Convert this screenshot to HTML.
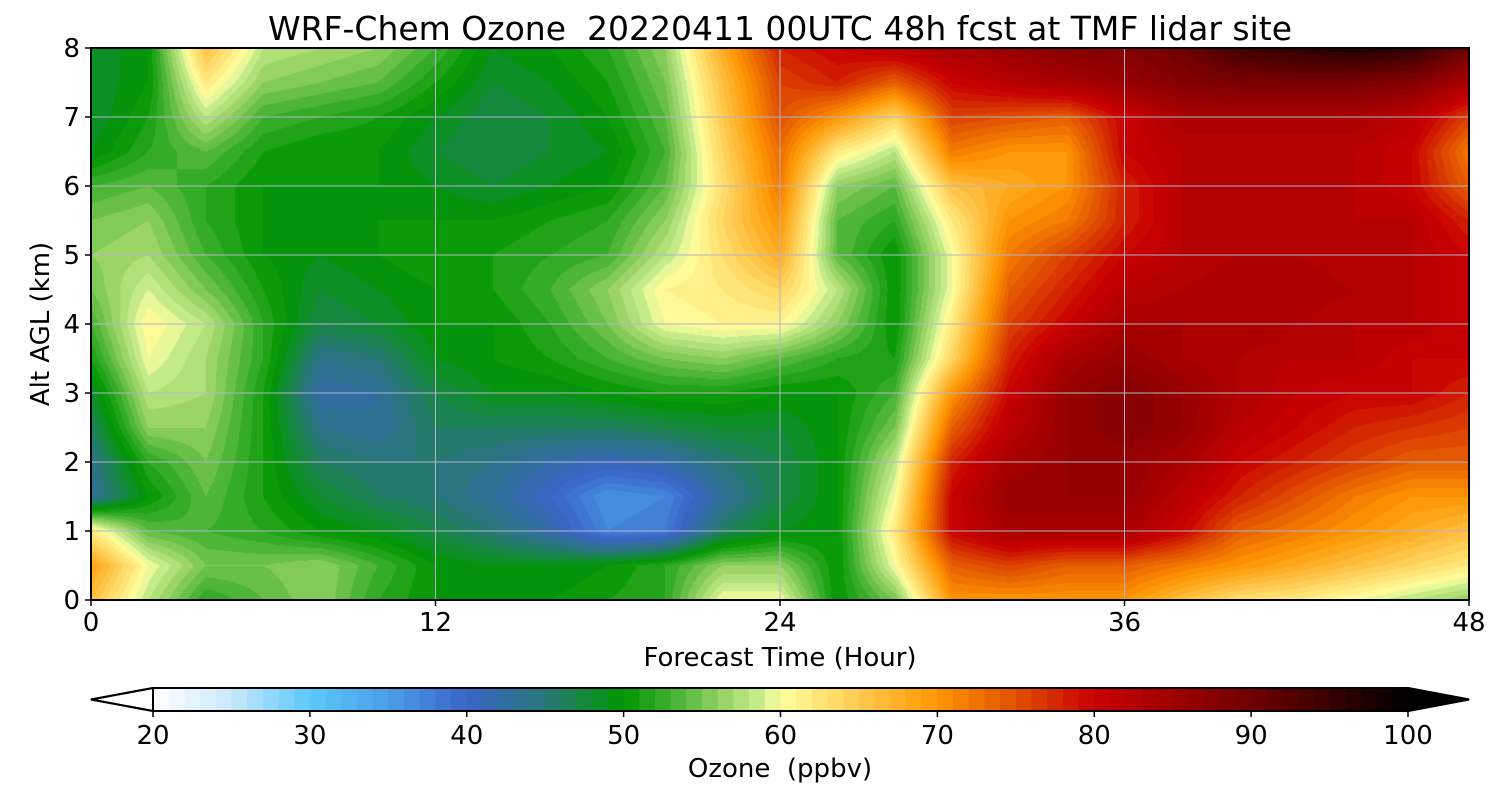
<!DOCTYPE html>
<html><head><meta charset="utf-8">
<style>
body{margin:0;background:#fff;width:1500px;height:800px;overflow:hidden;font-family:"DejaVu Sans","Liberation Sans",sans-serif;}
#wrap{position:relative;width:1500px;height:800px;}
canvas{position:absolute;left:91px;top:48px;}
svg{position:absolute;left:0;top:0;font-family:"DejaVu Sans","Liberation Sans",sans-serif;}
text{white-space:pre;}
</style></head><body>
<div id="wrap">
<canvas id="cv" width="1378" height="552"></canvas>
<svg id="sv" width="1500" height="800"></svg>
</div>
<script>
const hours=[0,2,4,6,8,10,12,14,16,18,20,22,24,26,28,30,32,34,36,38,40,42,44,46,48];
const alts=[0,0.5,1,1.5,2,2.5,3,3.5,4,4.5,5,5.5,6,6.5,7,7.5,8];
// ozone rows from alt 0 (first) to alt 8 (last)
const ozone=[
[66,58,52,54,56,52,50,50,50,51,52,60,60,50,55,70,70,70,70,66,63,62,60,58,56],
[69,60,55,55,56,53,50,49,49,50,52,56,56,50,60,74,76,74,74,72,70,68,66,64,62],
[62,54,53,52,50,49,47,45,42,37,38,46,49,50,62,80,84,84,84,80,74,72,70,68,66],
[43,50,54,51,48,46,45,43,40,36,37,43,47,50,60,80,86,86,86,82,78,75,72,70,70],
[44,52,55,51,46,45,45,44,42,41,42,45,47,50,58,78,84,86,86,84,80,78,76,74,74],
[46,56,56,51,44,43,46,46,46,46,47,48,48,50,55,74,82,86,88,86,82,80,78,77,76],
[48,58,57,51,42,43,47,49,49,50,51,51,50,50,53,70,80,86,88,86,83,81,80,80,78],
[51,60,57,52,44,45,49,50,51,53,55,56,54,52,51,64,78,84,86,84,83,82,82,80,80],
[53,61,58,52,47,48,50,50,52,55,60,61,61,56,50,62,76,80,84,84,84,83,82,82,80],
[55,59,55,51,48,49,50,51,53,56,61,62,64,58,50,60,74,78,82,83,84,84,83,82,80],
[56,57,53,50,49,50,51,51,52,53,58,63,68,54,50,60,72,76,80,82,83,83,82,82,80],
[55,56,52,50,49,50,50,50,51,52,56,64,70,54,52,62,70,72,78,82,82,82,82,82,78],
[53,54,52,50,50,50,49,48,49,50,54,63,72,56,54,66,68,70,78,82,82,82,82,80,74],
[49,52,54,51,50,50,48,47,48,49,53,64,73,62,58,72,70,70,80,82,82,82,82,80,72],
[48,51,58,53,52,51,49,47,48,50,54,65,75,70,64,76,75,74,80,84,84,84,84,82,76],
[48,50,62,56,55,54,51,48,49,51,55,66,76,78,74,80,82,84,86,88,89,89,89,88,84],
[48,50,66,58,57,56,53,49,50,52,56,68,78,80,82,84,86,88,88,90,94,96,97,96,90]];
const xTicks=[0,12,24,36,48];
const yTicks=[0,1,2,3,4,5,6,7,8];
const cbTicks=[20,30,40,50,60,70,80,90,100];
const stops=[[20,'#ffffff'],[25,'#c8e8fa'],[30,'#5ac8fa'],[35,'#4a9ee8'],[40,'#3a64c8'],[45,'#287878'],[48,'#108c30'],[50,'#009600'],[53,'#40b030'],[56,'#90d060'],[59,'#d0f090'],[60,'#ffffa0'],[63,'#ffe070'],[66,'#ffc040'],[70,'#ff9600'],[75,'#e05000'],[80,'#c80000'],[85,'#a00000'],[90,'#700000'],[95,'#380000'],[100,'#000000']];
function hex(h){return [1,3,5].map(i=>parseInt(h.substr(i,2),16));}
function cmap(v){
  if(v<=20)return hex('#ffffff'); if(v>=100)return [0,0,0];
  for(let i=0;i<stops.length-1;i++){const a=stops[i],b=stops[i+1];
    if(v>=a[0]&&v<=b[0]){const t=(v-a[0])/(b[0]-a[0]);const ca=hex(a[1]),cb=hex(b[1]);return ca.map((c,k)=>Math.round(c+(cb[k]-c)*t));}}
  return [0,0,0];
}
const PX0=91,PX1=1469,PY0=48,PY1=600;
const W=PX1-PX0,H=PY1-PY0;
const xs=h=>PX0+(h-hours[0])/(hours[hours.length-1]-hours[0])*W;
const ys=a=>PY1-(a-alts[0])/(alts[alts.length-1]-alts[0])*H;
const cv=document.getElementById('cv');const ctx=cv.getContext('2d');
const img=ctx.createImageData(W,H);
function findIdx(arr,v){let i=0;while(i<arr.length-2&&v>arr[i+1])i++;return i;}
for(let py=0;py<H;py++){
  const a=alts[0]+(1-(py+0.5)/H)*(alts[alts.length-1]-alts[0]);
  const j=findIdx(alts,a);const ty=(a-alts[j])/(alts[j+1]-alts[j]);
  for(let px=0;px<W;px++){
    const h=hours[0]+((px+0.5)/W)*(hours[hours.length-1]-hours[0]);
    const i=findIdx(hours,h);const tx=(h-hours[i])/(hours[i+1]-hours[i]);
    const v=(ozone[j][i]*(1-tx)+ozone[j][i+1]*tx)*(1-ty)+(ozone[j+1][i]*(1-tx)+ozone[j+1][i+1]*tx)*ty;
    const q=Math.floor(v)+0.5;const c=cmap(q);const o=(py*W+px)*4;
    img.data[o]=c[0];img.data[o+1]=c[1];img.data[o+2]=c[2];img.data[o+3]=255;
  }}
ctx.putImageData(img,0,0);
const sv=document.getElementById('sv');const NS='http://www.w3.org/2000/svg';
function el(t,at,txt){const e=document.createElementNS(NS,t);for(const k in at)e.setAttribute(k,at[k]);if(txt!==undefined)e.textContent=txt;sv.appendChild(e);return e;}
xTicks.forEach(t=>{const e=el('line',{x1:xs(t),x2:xs(t),y1:PY0,y2:PY1,stroke:'#b4b4c8','stroke-width':1});

});
yTicks.forEach(t=>{const e=el('line',{x1:PX0,x2:PX1,y1:ys(t),y2:ys(t),stroke:'#b4b4c8','stroke-width':1});

});
let fr=el('rect',{x:PX0,y:PY0,width:W,height:H,fill:'none',stroke:'#000','stroke-width':2});


xTicks.forEach(t=>{el('line',{x1:xs(t),x2:xs(t),y1:PY1,y2:PY1+6,stroke:'#000','stroke-width':1.5});
const e=el('text',{x:xs(t),y:631,'font-size':26,'text-anchor':'middle'},t);

});
yTicks.forEach(t=>{el('line',{x1:PX0-6,x2:PX0,y1:ys(t),y2:ys(t),stroke:'#000','stroke-width':1.5});
const e=el('text',{x:80,y:ys(t)+9,'font-size':26,'text-anchor':'end'},t);

});
let tt=el('text',{x:780,y:40,'font-size':33,'text-anchor':'middle'},'WRF-Chem Ozone  20220411 00UTC 48h fcst at TMF lidar site');


let xl=el('text',{x:780,y:666,'font-size':26,'text-anchor':'middle'},'Forecast Time (Hour)');


let yl=el('text',{x:49,y:324,'font-size':26,'text-anchor':'middle',transform:'rotate(-90 49 324)'},'Alt AGL (km)');


const CB0=153,CB1=1408,CBY=688,CBH=23;
const cx=v=>CB0+(v-20)/80*(CB1-CB0);
for(let v=20;v<100;v++){const c=cmap(v+0.5);
const r=el('rect',{x:cx(v),y:CBY,width:cx(v+1)-cx(v)+0.5,height:CBH,fill:`rgb(${c[0]},${c[1]},${c[2]})`});

}
let tl=el('polygon',{points:`${CB0},${CBY} 91,${CBY+CBH/2} ${CB0},${CBY+CBH}`,fill:'#fff',stroke:'#000','stroke-width':2});


let tr=el('polygon',{points:`${CB1},${CBY} 1469,${CBY+CBH/2} ${CB1},${CBY+CBH}`,fill:'#000',stroke:'#000','stroke-width':2});


let cbf=el('polyline',{points:`${CB0},${CBY} ${CB1},${CBY} 1469,${CBY+CBH/2} ${CB1},${CBY+CBH} ${CB0},${CBY+CBH} 91,${CBY+CBH/2} ${CB0},${CBY}`,fill:'none',stroke:'#000','stroke-width':2});


cbTicks.forEach(t=>{el('line',{x1:cx(t),x2:cx(t),y1:CBY+CBH,y2:CBY+CBH+6,stroke:'#000','stroke-width':1.5});
const e=el('text',{x:cx(t),y:744,'font-size':26,'text-anchor':'middle'},t);

});
let cl=el('text',{x:780,y:777,'font-size':26,'text-anchor':'middle'},'Ozone  (ppbv)');


</script>
</body></html>
